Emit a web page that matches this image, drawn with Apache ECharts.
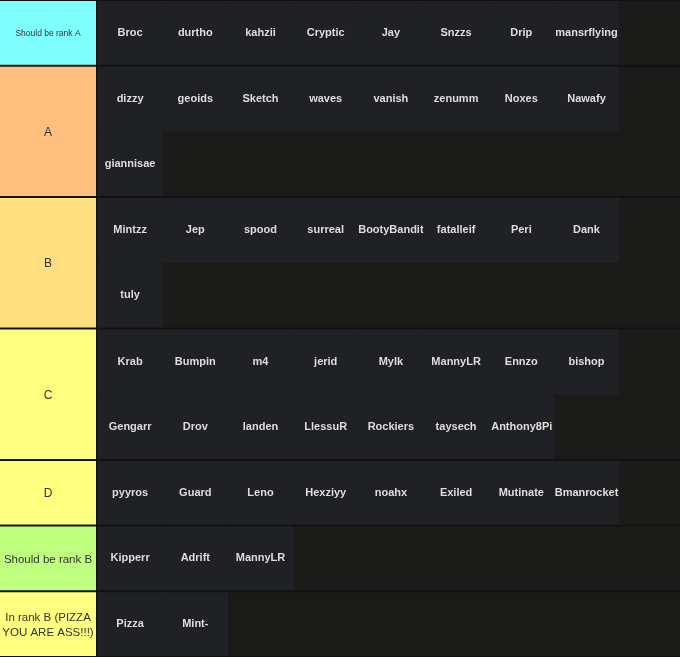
<!DOCTYPE html>
<html>
<head>
<meta charset="utf-8">
<script src="https://cdn.jsdelivr.net/npm/echarts@6/dist/echarts.min.js"></script>
<style>
html,body{margin:0;padding:0;background:#111111;}
#chart{width:680px;height:657px;}
</style>
</head>
<body>
<div id="chart"></div>
<script>
// ---- data ----
var tierNames = ['Should be rank A', 'A', 'B', 'C', 'D', 'Should be rank B', 'In rank B (PIZZA\nYOU ARE ASS!!!)'];
var tierColors = ['#80ffff', '#ffbf7f', '#ffdf7f', '#ffff7f', '#ffff7f', '#bfff7f', '#ffff7f'];
var tierFontSizes = [8.5, 12, 12, 12, 12, 11.5, 11.5];
var tierShouldBeA = ['Broc', 'durtho', 'kahzii', 'Cryptic', 'Jay', 'Snzzs', 'Drip', 'mansrflying'];
var tierA = ['dizzy', 'geoids', 'Sketch', 'waves', 'vanish', 'zenumm', 'Noxes', 'Nawafy', 'giannisae'];
var tierB = ['Mintzz', 'Jep', 'spood', 'surreal', 'BootyBandit', 'fatalleif', 'Peri', 'Dank', 'tuly'];
var tierC = ['Krab', 'Bumpin', 'm4', 'jerid', 'Mylk', 'MannyLR', 'Ennzo', 'bishop', 'Gengarr', 'Drov', 'landen', 'LlessuR', 'Rockiers', 'taysech', 'Anthony8Pizza'];
var tierD = ['pyyros', 'Guard', 'Leno', 'Hexziyy', 'noahx', 'Exiled', 'Mutinate', 'Bmanrocket'];
var tierShouldBeB = ['Kipperr', 'Adrift', 'MannyLR'];
var tierInB = ['Pizza', 'Mint-'];
var tierItems = [tierShouldBeA, tierA, tierB, tierC, tierD, tierShouldBeB, tierInB];

// ---- layout constants ----
var PER_ROW = 8;
var LABEL_W = 97.5;   // px
var CELL_W = 65.2;    // px
var W = 680;
var xMin = -LABEL_W / CELL_W;
var xMax = (W - LABEL_W) / CELL_W;
var ITEM_FONT = 'bold 11px "Liberation Sans", Arial, sans-serif';
var measureCtx = document.createElement('canvas').getContext('2d');
measureCtx.font = ITEM_FONT;

// build series data from arrays
var tierData = [];
var itemData = [];
var rowStart = 0;
for (var t = 0; t < tierNames.length; t++) {
  var items = tierItems[t];
  var rows = Math.max(1, Math.ceil(items.length / PER_ROW));
  tierData.push([rowStart, rows, t]);
  for (var i = 0; i < items.length; i++) {
    itemData.push([i % PER_ROW, rowStart + Math.floor(i / PER_ROW), items[i]]);
  }
  rowStart += rows;
}
var totalRows = rowStart;

var chart = echarts.init(document.getElementById('chart'), null, {renderer: 'canvas'});
chart.setOption({
  backgroundColor: '#121212',
  animation: false,
  grid: {left: 0, right: 0, top: 0, bottom: 0},
  xAxis: {type: 'value', min: xMin, max: xMax, show: false},
  yAxis: {type: 'value', min: 0, max: totalRows, inverse: true, show: false},
  series: [
    {
      type: 'custom',
      name: 'tiers',
      clip: false,
      data: tierData,
      renderItem: function (params, api) {
        var start = api.value(0), rows = api.value(1), idx = api.value(2);
        var p0 = api.coord([xMin, start]);
        var p1 = api.coord([0, start + rows]);
        var p2 = api.coord([xMax, start + rows]);
        var top = p0[1] + 1, bottom = p1[1] - 1;
        return {
          type: 'group',
          children: [
            {
              type: 'rect',
              shape: {x: p1[0], y: top, width: p2[0] - p1[0], height: bottom - top},
              style: {fill: '#1a1a18'}
            },
            {
              type: 'rect',
              shape: {x: p0[0], y: top, width: p1[0] - p0[0] - 1.5, height: bottom - top},
              style: {fill: tierColors[idx]}
            },
            {
              type: 'text',
              x: (p0[0] + p1[0] - 1.5) / 2,
              y: (top + bottom) / 2 + 1,
              style: {
                text: tierNames[idx],
                fill: '#333333',
                font: tierFontSizes[idx] + 'px "Liberation Sans", Arial, sans-serif',
                align: 'center',
                verticalAlign: 'middle',
                lineHeight: tierFontSizes[idx] * 1.3
              }
            }
          ]
        };
      }
    },
    {
      type: 'custom',
      name: 'items',
      clip: false,
      data: itemData,
      renderItem: function (params, api) {
        var col = api.value(0), row = api.value(1);
        var name = itemData[params.dataIndex][2];
        var a = api.coord([col, row]);
        var b = api.coord([col + 1, row + 1]);
        var top = a[1], bottom = b[1];
        var rowTopIsTier = tierData.some(function (d) { return d[0] === row; });
        var rowBotIsTier = tierData.some(function (d) { return d[0] + d[1] === row + 1; });
        if (rowTopIsTier) top += 1;
        if (rowBotIsTier) bottom -= 1;
        var w = b[0] - a[0];
        var tw = measureCtx.measureText(name).width;
        var overflow = tw > w + 8;
        var textStyle = {
          text: name,
          fill: '#dedede',
          font: ITEM_FONT,
          align: overflow ? 'left' : 'center',
          verticalAlign: 'middle'
        };
        if (overflow) {
          textStyle.width = w - 2.5;
          textStyle.overflow = 'truncate';
          textStyle.ellipsis = '';
        }
        return {
          type: 'group',
          children: [
            {
              type: 'rect',
              shape: {x: a[0], y: top, width: w + 0.3, height: bottom - top},
              style: {fill: '#1f2124'}
            },
            {
              type: 'text',
              x: overflow ? a[0] + 2.5 : (a[0] + b[0]) / 2,
              y: (top + bottom) / 2,
              style: textStyle
            }
          ]
        };
      }
    }
  ]
});
</script>
</body>
</html>
